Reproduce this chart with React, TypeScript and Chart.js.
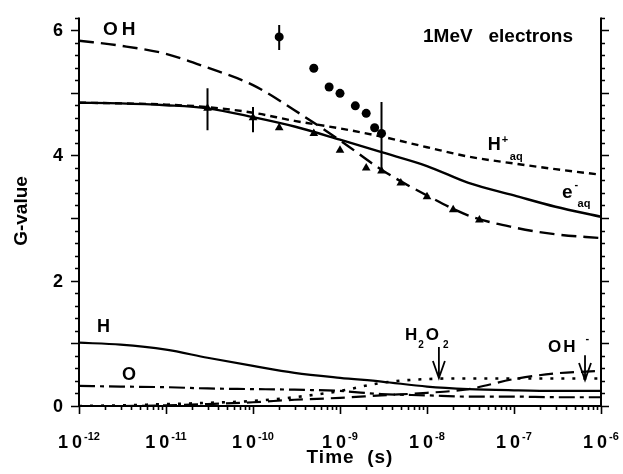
import { useEffect, useRef } from 'react';
import { Chart, registerables } from 'chart.js';

Chart.register(...registerables);

// Simulation time grid (s)
const times = [1e-12, 3e-12, 1e-11, 3e-11, 1e-10, 3e-10, 1e-9, 3e-9, 1e-8, 3e-8, 1e-7, 3e-7, 1e-6];

// Simulated G-values for each species on the time grid
const gOH = [5.83, 5.75, 5.62, 5.4, 5.12, 4.72, 4.24, 3.77, 3.36, 3.04, 2.85, 2.74, 2.68];
const gEaq = [4.84, 4.83, 4.8, 4.75, 4.61, 4.46, 4.25, 4.05, 3.83, 3.56, 3.36, 3.18, 3.02];
const gHplus = [4.84, 4.83, 4.81, 4.77, 4.68, 4.55, 4.43, 4.3, 4.13, 3.98, 3.87, 3.78, 3.69];
const gH = [1.01, 0.98, 0.9, 0.77, 0.64, 0.53, 0.45, 0.39, 0.31, 0.27, 0.25, 0.24, 0.24];
const gO = [0.32, 0.31, 0.3, 0.28, 0.27, 0.26, 0.24, 0.19, 0.17, 0.15, 0.15, 0.14, 0.14];
const gH2O2 = [0.0, 0.01, 0.03, 0.05, 0.08, 0.14, 0.24, 0.37, 0.43, 0.44, 0.44, 0.44, 0.44];
const gOHminus = [0.0, 0.0, 0.01, 0.03, 0.06, 0.1, 0.13, 0.17, 0.21, 0.27, 0.43, 0.52, 0.56];

// Measured OH (circles) and hydrated electron (triangles)
const expOHTimes = [2e-10, 5e-10, 7.5e-10, 1e-9, 1.5e-9, 2e-9, 2.5e-9, 3e-9];
const expOHValues = [5.89, 5.39, 5.09, 4.99, 4.79, 4.67, 4.44, 4.35];
const expEaqTimes = [3e-11, 1e-10, 2e-10, 5e-10, 1e-9, 2e-9, 3e-9, 5e-9, 1e-8, 2e-8, 4e-8];
const expEaqValues = [4.75, 4.6, 4.44, 4.35, 4.08, 3.8, 3.75, 3.56, 3.34, 3.13, 2.97];

// Error bars on selected measurements
const errTimes = [3e-11, 1e-10, 2e-10, 3e-9];
const errLow = [4.4, 4.37, 5.68, 3.73];
const errHigh = [5.07, 4.77, 6.08, 4.85];

// Axis ticks
const xTickExponents = [-12, -11, -10, -9, -8, -7, -6];
const yTickLabels = [0, 2, 4, 6];

// Arrows pointing at curves: time, start G, tip G
const arrowTimes = [1.37e-8, 6.55e-7];
const arrowFrom = [0.94, 0.81];
const arrowTo = [0.447, 0.415];

const FONT = '"Liberation Sans", Arial, Helvetica, sans-serif';

const pts = (xs: number[], ys: number[]) => xs.map((x, i) => ({ x, y: ys[i] }));

const curve = (data: number[], dash: number[], width = 2.2) => ({
  data: pts(times, data),
  showLine: true,
  borderColor: '#000',
  borderWidth: width,
  borderDash: dash,
  pointRadius: 0,
  cubicInterpolationMode: 'monotone' as const,
  fill: false,
});

const overlayPlugin = {
  id: 'overlay',
  afterDraw(chart: any) {
    const { ctx, chartArea, scales } = chart;
    const xs = scales.x;
    const ys = scales.y;
    const L = chartArea.left;
    const R = chartArea.right;
    const T = chartArea.top;
    const B = chartArea.bottom;
    const px = (t: number) => xs.getPixelForValue(t);
    const py = (g: number) => ys.getPixelForValue(g);

    ctx.save();
    ctx.strokeStyle = '#000';
    ctx.fillStyle = '#000';
    ctx.lineWidth = 2;
    ctx.lineCap = 'butt';

    // frame: left, right and bottom axes
    ctx.beginPath();
    ctx.moveTo(L, T);
    ctx.lineTo(L, B);
    ctx.lineTo(R, B);
    ctx.lineTo(R, T);
    ctx.stroke();

    // y ticks (both sides, outward)
    ctx.lineWidth = 1.6;
    for (let i = 0; i <= 31; i++) {
      const v = i / 5;
      const y = Math.round(py(v)) + 0.5;
      const len = i % 5 === 0 ? 8 : 4;
      ctx.beginPath();
      ctx.moveTo(L - len, y);
      ctx.lineTo(L, y);
      ctx.moveTo(R, y);
      ctx.lineTo(R + len, y);
      ctx.stroke();
    }

    // x ticks (log decades, downward)
    for (const e of xTickExponents) {
      for (let m = 1; m <= 9; m++) {
        if (e === -6 && m > 1) break;
        const x = Math.round(px(m * Math.pow(10, e))) + 0.5;
        const len = m === 1 ? 8 : 4;
        ctx.beginPath();
        ctx.moveTo(x, B);
        ctx.lineTo(x, B + len);
        ctx.stroke();
      }
    }

    // y tick labels
    ctx.font = `bold 18px ${FONT}`;
    ctx.textAlign = 'right';
    ctx.textBaseline = 'middle';
    for (const v of yTickLabels) {
      ctx.fillText(String(v), L - 16, py(v) + 1);
    }

    // x tick labels 10^n
    ctx.textBaseline = 'alphabetic';
    ctx.textAlign = 'left';
    for (const e of xTickExponents) {
      const x = px(Math.pow(10, e));
      ctx.font = `bold 18px ${FONT}`;
      (ctx as any).letterSpacing = '4px';
      const w1 = ctx.measureText('10').width;
      ctx.font = `bold 11px ${FONT}`;
      (ctx as any).letterSpacing = '0px';
      const sup = String(e);
      const w2 = ctx.measureText(sup).width;
      const x0 = x - (w1 + w2) / 2 + 1;
      ctx.font = `bold 18px ${FONT}`;
      (ctx as any).letterSpacing = '4px';
      ctx.fillText('10', x0, B + 42);
      (ctx as any).letterSpacing = '0px';
      ctx.font = `bold 11px ${FONT}`;
      ctx.fillText(sup, x0 + w1 - 2, B + 34);
    }

    // axis titles
    ctx.font = `bold 19px ${FONT}`;
    (ctx as any).letterSpacing = '1px';
    ctx.textAlign = 'center';
    ctx.fillText('Time  (s)', (L + R) / 2 + 10, B + 57);
    (ctx as any).letterSpacing = '0px';
    ctx.save();
    ctx.translate(27, 211);
    ctx.rotate(-Math.PI / 2);
    ctx.font = `bold 19px ${FONT}`;
    ctx.fillText('G-value', 0, 0);
    ctx.restore();

    // species labels
    ctx.textAlign = 'left';
    const text = (s: string, x: number, y: number, size: number, spacing = 0) => {
      ctx.font = `bold ${size}px ${FONT}`;
      (ctx as any).letterSpacing = `${spacing}px`;
      ctx.fillText(s, x, y);
      const w = ctx.measureText(s).width;
      (ctx as any).letterSpacing = '0px';
      return w;
    };

    text('OH', px(1.89e-12), py(5.92), 19, 4);
    text('1MeV   electrons', px(9.0e-9), py(5.81), 19);

    // H+ aq
    {
      const x0 = px(5.0e-8);
      const b = py(4.085);
      const w = text('H', x0, b, 18);
      text('+', x0 + w + 1, b - 7, 11);
      text('aq', x0 + w + 9, b + 10, 11);
    }
    // e- aq
    {
      const x0 = px(3.56e-7);
      const b = py(3.32);
      const w = text('e', x0, b, 19);
      text('-', x0 + w + 2, b - 10, 11);
      text('aq', x0 + w + 5, b + 9, 11);
    }

    text('H', px(1.61e-12), py(1.18), 18);
    text('O', px(3.12e-12), py(0.415), 18);

    // H2O2
    {
      let x = px(5.58e-9);
      const b = py(1.053);
      x += text('H', x, b, 17) + 1;
      x += text('2', x, b + 8, 10) + 2;
      x += text('O', x, b, 17) + 4;
      text('2', x, b + 8, 10);
    }
    // OH-
    {
      const x0 = px(2.46e-7);
      const b = py(0.862);
      const w = text('OH', x0, b, 17, 2);
      text('-', x0 + w + 8, b - 10, 11);
    }

    // arrows
    ctx.lineWidth = 1.8;
    arrowTimes.forEach((t, i) => {
      const x = px(t);
      const y1 = py(arrowFrom[i]);
      const y2 = py(arrowTo[i]);
      ctx.beginPath();
      ctx.moveTo(x, y1);
      ctx.lineTo(x, y2);
      ctx.moveTo(x - 6, y2 - 17);
      ctx.lineTo(x, y2);
      ctx.lineTo(x + 6, y2 - 17);
      ctx.stroke();
    });

    ctx.restore();
  },
};

export default function App() {
  const canvasRef = useRef<HTMLCanvasElement | null>(null);

  useEffect(() => {
    if (!canvasRef.current) return;

    const errorBars = errTimes.map((t, i) => ({
      data: [
        { x: t, y: errLow[i] },
        { x: t, y: errHigh[i] },
      ],
      showLine: true,
      borderColor: '#000',
      borderWidth: 2,
      pointRadius: 0,
      fill: false,
    }));

    const chart = new Chart(canvasRef.current, {
      type: 'scatter',
      data: {
        datasets: [
          curve(gOH, [15, 7], 2.4),
          curve(gEaq, [], 2.4),
          curve(gHplus, [7, 5], 2.4),
          curve(gH, [], 2.2),
          curve(gO, [16, 5, 4, 5], 2.2),
          curve(gH2O2, [3, 8], 2.6),
          curve(gOHminus, [14, 7], 2.2),
          ...errorBars,
          {
            data: pts(expOHTimes, expOHValues),
            pointStyle: 'circle',
            pointRadius: 4.5,
            backgroundColor: '#000',
            borderColor: '#000',
            borderWidth: 0,
            showLine: false,
          },
          {
            data: pts(expEaqTimes, expEaqValues),
            pointStyle: 'triangle',
            pointRadius: 5,
            backgroundColor: '#000',
            borderColor: '#000',
            borderWidth: 0,
            showLine: false,
          },
        ] as any,
      },
      options: {
        animation: false,
        responsive: false,
        devicePixelRatio: 1,
        layout: { padding: { left: 79, right: 22, top: 17.5, bottom: 68 } },
        plugins: {
          legend: { display: false },
          tooltip: { enabled: false },
        },
        scales: {
          x: { type: 'logarithmic', min: 1e-12, max: 1e-6, display: false },
          y: { type: 'linear', min: 0, max: 6.2, display: false },
        },
      },
      plugins: [overlayPlugin],
    });

    return () => chart.destroy();
  }, []);

  return (
    <div style={{ position: 'absolute', left: 0, top: 0, width: 623, height: 474, background: '#fff' }}>
      <canvas ref={canvasRef} width={623} height={474} style={{ display: 'block' }} />
    </div>
  );
}
